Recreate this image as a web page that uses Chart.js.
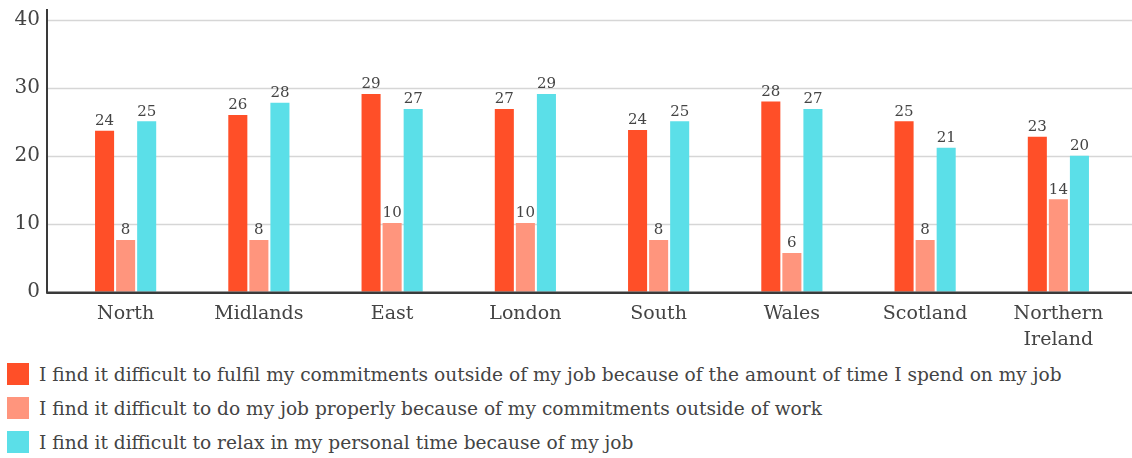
<!DOCTYPE html>
<html>
<head>
<meta charset="utf-8">
<script src="https://cdn.jsdelivr.net/npm/chart.js@4/dist/chart.umd.min.js"></script>
<style>
  html, body { margin: 0; padding: 0; background: #fff; }
  #wrap { width: 1132px; height: 363px; position: relative; }
  #legend { margin: -6px 0 0 0; padding: 0; list-style: none; font-family: "DejaVu Serif", serif; font-size: 18.6px; color: #444; }
  #legend li { height: 34px; display: flex; align-items: center; padding-left: 7px; white-space: nowrap; }
  #legend li span.box { width: 22px; height: 22px; margin-right: 10px; flex: none; }
</style>
</head>
<body>
<div id="wrap"><canvas id="js-chartjs-regions" width="1132" height="363"></canvas></div>
<ul id="legend"></ul>
<script>
const regions = ["North", "Midlands", "East", "London", "South", "Wales", "Scotland", ["Northern", "Ireland"]];
const seriesNames = [
  "I find it difficult to fulfil my commitments outside of my job because of the amount of time I spend on my job",
  "I find it difficult to do my job properly because of my commitments outside of work",
  "I find it difficult to relax in my personal time because of my job"
];
const fulfilValues = [23.7, 26.0, 29.1, 26.9, 23.8, 28.0, 25.1, 22.8];
const properlyValues = [7.6, 7.6, 10.1, 10.1, 7.6, 5.7, 7.6, 13.6];
const relaxValues = [25.1, 27.8, 26.9, 29.1, 25.1, 26.9, 21.2, 20.0];
const yTicks = [0, 10, 20, 30, 40];
const colors = ["#ff4f28", "#ff957d", "#5bdfe8"];

const FONT = "'DejaVu Serif', serif";
Chart.defaults.font.family = FONT;
Chart.defaults.color = "#444";

// gridlines and axis lines run a bit past the bar area, so draw them here
const framePlugin = {
  id: "frame",
  beforeDatasetsDraw(chart) {
    const { ctx } = chart;
    const y = chart.scales.y;
    const left = 47, right = chart.width;
    ctx.save();
    ctx.strokeStyle = "#d6d6d6";
    ctx.lineWidth = 1.5;
    yTicks.forEach((t) => {
      if (t === 0) return;
      const py = Math.round(y.getPixelForValue(t)) + 0.5;
      ctx.beginPath();
      ctx.moveTo(left, py);
      ctx.lineTo(right, py);
      ctx.stroke();
    });
    ctx.restore();
  },
  afterDatasetsDraw(chart) {
    const { ctx } = chart;
    const y = chart.scales.y;
    const zero = y.getPixelForValue(0);
    ctx.save();
    ctx.strokeStyle = "#3a3a3a";
    ctx.lineWidth = 2.5;
    ctx.beginPath();
    ctx.moveTo(47, zero + 1);
    ctx.lineTo(chart.width, zero + 1);
    ctx.stroke();
    ctx.lineWidth = 2;
    ctx.beginPath();
    ctx.moveTo(47, 9);
    ctx.lineTo(47, zero + 2);
    ctx.stroke();
    ctx.restore();
  }
};

const valueLabels = {
  id: "valueLabels",
  afterDatasetsDraw(chart) {
    const { ctx } = chart;
    ctx.save();
    ctx.font = "15px " + FONT;
    ctx.fillStyle = "#444";
    ctx.textAlign = "center";
    ctx.textBaseline = "bottom";
    chart.data.datasets.forEach((ds, i) => {
      chart.getDatasetMeta(i).data.forEach((bar, j) => {
        ctx.fillText(Math.round(ds.data[j]), bar.x, bar.y - 2);
      });
    });
    ctx.restore();
  }
};

const chart = new Chart(document.getElementById("js-chartjs-regions"), {
  type: "bar",
  data: {
    labels: regions,
    datasets: [fulfilValues, properlyValues, relaxValues].map((data, i) => ({
      label: seriesNames[i],
      data,
      backgroundColor: colors[i],
      barPercentage: 0.905,
      categoryPercentage: 0.474
    }))
  },
  options: {
    responsive: false,
    animation: false,
    layout: { padding: { top: 20, right: 7, bottom: 0, left: 0 } },
    plugins: { legend: { display: false }, tooltip: { enabled: false } },
    scales: {
      x: {
        grid: { display: false, drawTicks: false },
        border: { display: false },
        ticks: { padding: 10, color: "#444", font: { size: 19, lineHeight: 1.35 }, maxRotation: 0, autoSkip: false }
      },
      y: {
        min: 0,
        max: 40,
        afterFit(scale) {
          scale.width = 59;
          // tick padding is only meant to push labels left, not shrink the plot
          scale.paddingTop = 0;
          scale.paddingBottom = 0;
        },
        afterBuildTicks(scale) { scale.ticks = yTicks.map((v) => ({ value: v })); },
        grid: { display: false, drawTicks: false },
        border: { display: false },
        ticks: { padding: 19, color: "#444", font: { size: 20 } }
      }
    }
  },
  plugins: [framePlugin, valueLabels]
});

// legend as a plain list under the chart
const legendEl = document.getElementById("legend");
chart.data.datasets.forEach((ds) => {
  const li = document.createElement("li");
  const box = document.createElement("span");
  box.className = "box";
  box.style.background = ds.backgroundColor;
  li.appendChild(box);
  li.appendChild(document.createTextNode(ds.label));
  legendEl.appendChild(li);
});
</script>
</body>
</html>
